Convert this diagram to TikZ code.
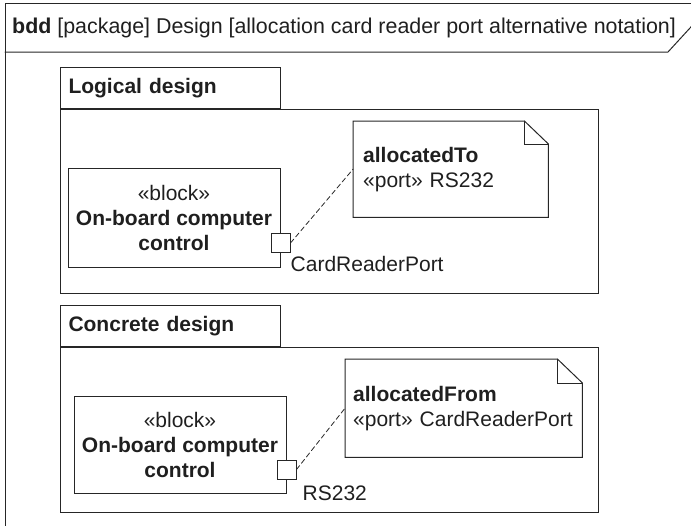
\documentclass[tikz,border=0pt]{standalone}
\usepackage{fontspec}
\setmainfont{Liberation Sans}
\usetikzlibrary{positioning, calc}

\begin{document}
\begin{tikzpicture}[
  x={(1pt,0pt)}, y={(0pt,-1pt)},
  line cap=round, line join=miter,
  every node/.style={text=black!88, font=\fontsize{21}{25}\selectfont},
  ln/.style={draw=black!85, line width=1pt},
  tab/.style={ln, minimum width=220pt, minimum height=41pt, inner xsep=8pt,
    text width=204pt, align=left, font=\fontsize{21}{25}\selectfont\bfseries},
  body/.style={ln, anchor=north west, minimum width=538pt},
  blk/.style={ln, minimum width=212pt, align=center, inner sep=0pt},
  port/.style={ln, fill=white, minimum size=19pt, inner sep=0pt},
  note/.style={anchor=north west, align=left, inner ysep=0pt},
  lbl/.style={anchor=west, inner sep=0pt},
  trace/.style={draw=black!85, line width=0.8pt, dash pattern=on 5pt off 3pt}
]
  \useasboundingbox (0,0) rectangle (691,525);
  \clip (0,0) rectangle (691,525);

  % diagram frame
  \draw[ln] (5,540) -- (5,3) -- (700,3);
  \draw[ln] (5,52) -- (668,52) -- (712,4);
  \node[lbl, font=\fontsize{21.4}{25}\selectfont] (title) at (12,28)
    {\textbf{bdd} [package] Design [allocation card reader port alternative notation]};

  % logical design package
  \node[tab, anchor=north west] (ltab) at (60,67) {Logical design};
  \node[body, minimum height=184pt] (lbody) at (ltab.south west) {};
  \node[blk, minimum height=99pt] (b1) at (174,217.5)
    {«block»\\\textbf{On-board computer}\\\textbf{control}};
  \node[port] (p1) at ([yshift=24.5pt]b1.south east) {};
  \node[lbl] (l1) at ([yshift=-11pt]p1.south east) {CardReaderPort};
  \node[note, minimum width=195pt, minimum height=96pt, inner xsep=10pt,
    text width=175pt] (n1) at (353,121)
    {\textbf{allocatedTo}\\«port» RS232};
  \draw[ln] (n1.north west) -- ([xshift=-24pt]n1.north east)
    -- ([yshift=-23pt]n1.north east) -- (n1.south east) -- (n1.south west) -- cycle;
  \draw[ln] ([xshift=-24pt]n1.north east) |- ([yshift=-23pt]n1.north east);
  \draw[trace] (p1.east) -- (n1.west);

  % concrete design package
  \node[tab, anchor=north west] (ctab) at (60,305) {Concrete design};
  \node[body, minimum height=165pt] (cbody) at (ctab.south west) {};
  \node[blk, minimum height=97pt] (b2) at (180,444.5)
    {«block»\\\textbf{On-board computer}\\\textbf{control}};
  \node[port] (p2) at ([yshift=24pt]b2.south east) {};
  \node[lbl] (l2) at ([xshift=6pt, yshift=-14pt]p2.south east) {RS232};
  \node[note, minimum width=237pt, minimum height=98pt, inner xsep=8pt,
    text width=221pt] (n2) at (345,359)
    {\textbf{allocatedFrom}\\\mbox{«port» CardReaderPort}};
  \draw[ln] (n2.north west) -- ([xshift=-25pt]n2.north east)
    -- ([yshift=-24pt]n2.north east) -- (n2.south east) -- (n2.south west) -- cycle;
  \draw[ln] ([xshift=-25pt]n2.north east) |- ([yshift=-24pt]n2.north east);
  \draw[trace] (p2.east) -- (n2.west);
\end{tikzpicture}
\end{document}
